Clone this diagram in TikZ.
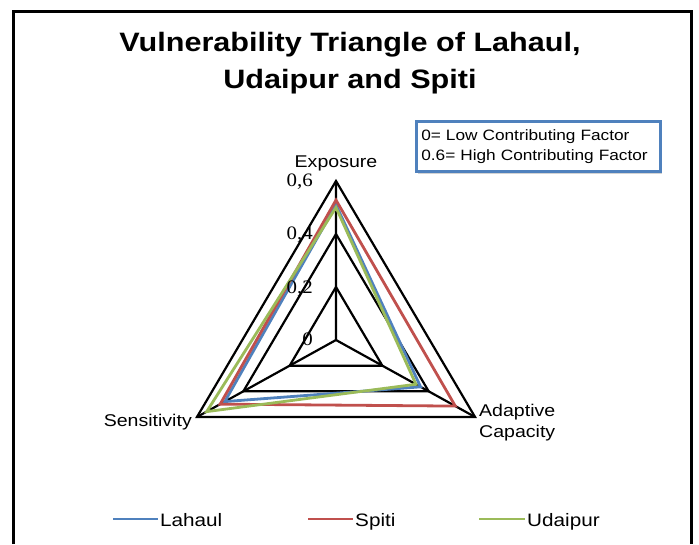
\documentclass[tikz,border=0pt]{standalone}
\usepackage{fontspec}
\setmainfont{Liberation Sans}[FakeStretch=1.15]
\newfontfamily\tickfont{Liberation Serif}[FakeStretch=1.1]
\usetikzlibrary{shadows}
\definecolor{lblue}{HTML}{4F81BD}
\definecolor{lred}{HTML}{C0504D}
\definecolor{lgreen}{HTML}{9BBB59}
\begin{document}
\begin{tikzpicture}[x=1pt,y=-1pt,
  gridline/.style={line width=2.2pt, black},
  series/.style={line width=2.8pt},
  axlabel/.style={font=\fontsize{17}{21}\selectfont, inner sep=0pt},
  ticklabel/.style={font=\tickfont\fontsize{19}{20}\selectfont, inner sep=0pt, anchor=base east},
  legtext/.style={font=\fontsize{18}{20}\selectfont, inner sep=0pt, anchor=base west},
  keybox/.style={draw=lblue, line width=2.6pt, fill=white, align=left,
    font=\fontsize{15}{20}\selectfont, inner xsep=5pt, inner ysep=8pt,
    drop shadow={shadow xshift=2pt, shadow yshift=-3pt, opacity=0.35}}]
\useasboundingbox (0,0) rectangle (699,544);
\draw[line width=3pt] (13,544) -- (13,11) -- (691,11) -- (691,544);
% title
\node[font=\fontsize{26.6}{36.6}\selectfont\bfseries, align=center, anchor=base, inner sep=0pt]
  (title) at (350,88.3) {Vulnerability Triangle of Lahaul,\\Udaipur and Spiti};
% grid
\coordinate (C) at (336,340);
\foreach \r/\n in {0.2/a,0.4/b,0.6/c}{
  \coordinate (T\n) at (336,{340-265*\r});
  \coordinate (R\n) at ({336+231.7*\r},{340+128.3*\r});
  \coordinate (L\n) at ({336-231.7*\r},{340+128.3*\r});
  \draw[gridline] (T\n) -- (R\n) -- (L\n) -- cycle;
}
\draw[gridline] (C) -- (Tc) (C) -- (Rc) (C) -- (Lc);
% series
\foreach \col/\e/\a/\s/\n in {lblue/0.51/0.365/0.48/lah, lred/0.528/0.515/0.50/spi, lgreen/0.50/0.345/0.558/uda}{
  \coordinate (\n E) at (336,{340-265*\e});
  \coordinate (\n A) at ({336+231.7*\a},{340+128.3*\a});
  \coordinate (\n S) at ({336-231.7*\s},{340+128.3*\s});
  \draw[series, \col] (\n E) -- (\n A) -- (\n S) -- cycle;
}
% tick labels
\node[ticklabel] (t6) at (313,186) {0,6};
\node[ticklabel] (t4) at (313,239) {0,4};
\node[ticklabel] (t2) at (313,293) {0,2};
\node[ticklabel] (t0) at (313,345) {0};
% axis labels
\node[axlabel, anchor=base] (exp) at (336,167) {Exposure};
\node[axlabel, anchor=base east] (sen) at (192,426) {Sensitivity};
\node[axlabel, anchor=base west, align=left] (ada) at (479,437) {Adaptive\\Capacity};
% key box
\node[keybox, anchor=north west, text width=234pt] (key) at (415,120)
  {0= Low Contributing Factor\\0.6= High Contributing Factor};
% legend
\coordinate (l1a) at (113,519); \coordinate (l1b) at (158,519);
\coordinate (l2a) at (308,519); \coordinate (l2b) at (353,519);
\coordinate (l3a) at (479,519); \coordinate (l3b) at (525,519);
\draw[series, lblue] (l1a) -- (l1b);
\draw[series, lred] (l2a) -- (l2b);
\draw[series, lgreen] (l3a) -- (l3b);
\node[legtext] (lg1) at (160,526) {Lahaul};
\node[legtext] (lg2) at (355,526) {Spiti};
\node[legtext] (lg3) at (527,526) {Udaipur};
\end{tikzpicture}
\end{document}
